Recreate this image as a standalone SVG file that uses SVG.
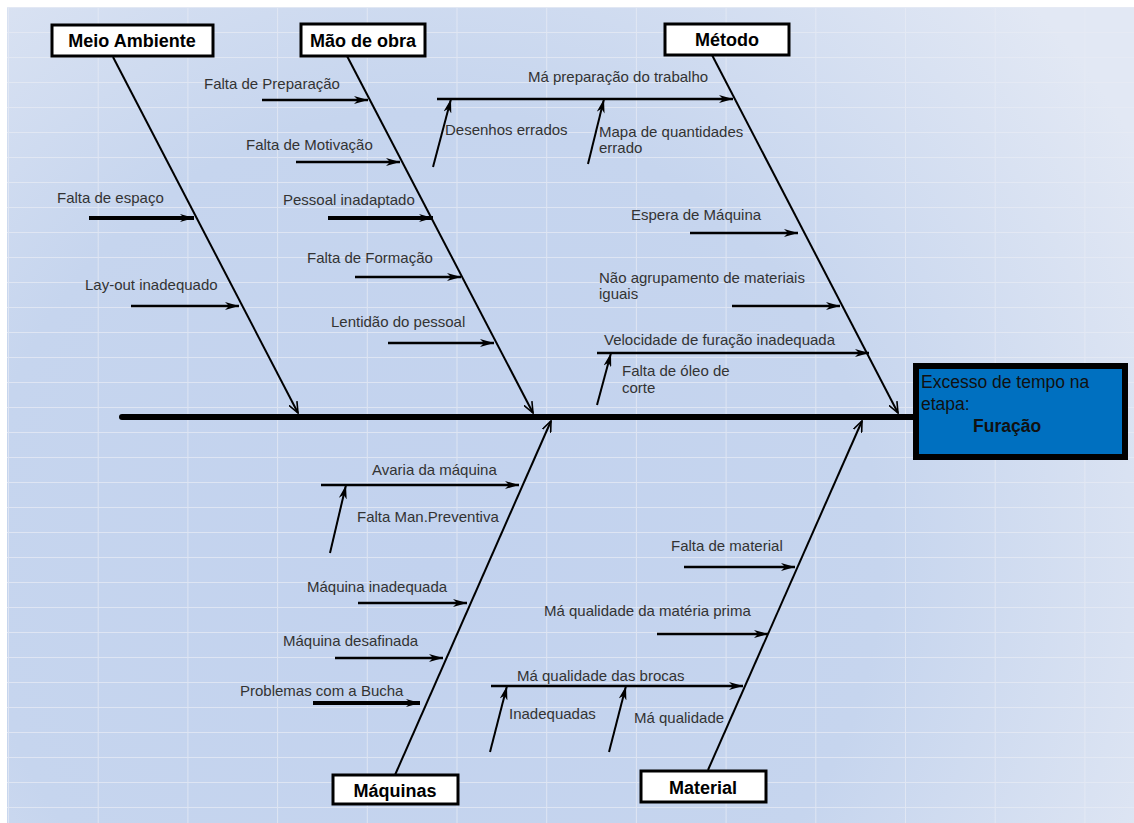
<svg xmlns="http://www.w3.org/2000/svg" width="1134" height="823" viewBox="0 0 1134 823">
  <defs>
    <radialGradient id="bgGrad" gradientUnits="userSpaceOnUse" cx="430" cy="560" r="820">
      <stop offset="0" stop-color="#c2d2ee"/>
      <stop offset="0.55" stop-color="#c6d5ee"/>
      <stop offset="1" stop-color="#e2e8f4"/>
    </radialGradient>
    <pattern id="grid" patternUnits="userSpaceOnUse" x="8" y="7" width="89.7" height="25">
      <path d="M0,0 H89.7 M0,0 V25" fill="none" stroke="#e6ebf4" stroke-width="2" stroke-opacity="0.75"/>
    </pattern>
    <marker id="head" markerUnits="userSpaceOnUse" viewBox="0 0 14 8" refX="14" refY="4" markerWidth="14" markerHeight="8" orient="auto">
      <path d="M0,0 L14,4 L0,8 L4,4 z" fill="#000"/>
    </marker>
    <marker id="vhead" markerUnits="userSpaceOnUse" viewBox="0 0 12 10" refX="11" refY="5" markerWidth="12" markerHeight="10" orient="auto">
      <path d="M0,0.5 L11,5 L0,9.5" fill="none" stroke="#000" stroke-width="1.6"/>
    </marker>
    <style>
      .cat rect { fill: #fff; stroke: #000; stroke-width: 3; }
      .cat text { font-family: "Liberation Sans", Arial, sans-serif; font-weight: bold; font-size: 18px; fill: #000; text-anchor: middle; }
      .lbl { font-family: "Liberation Sans", Arial, sans-serif; font-size: 15px; fill: #333; }
      .eff { font-family: "Liberation Sans", Arial, sans-serif; font-size: 17.5px; fill: #111; }
      .bone { stroke: #000; stroke-width: 2; fill: none; marker-end: url(#vhead); }
      .sub { stroke: #000; stroke-width: 2.5; fill: none; marker-end: url(#head); }
      .subw { stroke: #000; stroke-width: 4; fill: none; marker-end: url(#head); }
      .twig { stroke: #000; stroke-width: 2; fill: none; marker-end: url(#head); }
    </style>
  </defs>

  <!-- sheet background with cell grid -->
  <rect x="0" y="0" width="1134" height="823" fill="#fff"/>
  <rect x="7" y="7" width="1127" height="816" fill="url(#bgGrad)"/>
  <rect x="7" y="7" width="1127" height="816" fill="url(#grid)"/>

  <!-- connectors: spine, bones and cause arrows -->
  <g id="connectors">
    <line x1="122" y1="417" x2="916" y2="417" stroke="#000" stroke-width="6" stroke-linecap="round"/>

    <line class="bone" x1="113" y1="57" x2="298" y2="413"/>
    <line class="bone" x1="347" y1="56" x2="533" y2="413"/>
    <line class="bone" x1="712" y1="55" x2="898" y2="413"/>
    <line class="bone" x1="395" y1="775" x2="551" y2="421"/>
    <line class="bone" x1="708" y1="770" x2="862" y2="421"/>

    <!-- Meio Ambiente -->
    <line class="subw" x1="89" y1="218" x2="194" y2="218"/>
    <line class="sub" x1="131" y1="306" x2="239" y2="306"/>

    <!-- Mão de obra -->
    <line class="sub" x1="262" y1="100" x2="368" y2="100"/>
    <line class="sub" x1="296" y1="162" x2="400" y2="162"/>
    <line class="subw" x1="328" y1="218" x2="433" y2="218"/>
    <line class="sub" x1="355" y1="277" x2="461" y2="277"/>
    <line class="sub" x1="388" y1="343" x2="494" y2="343"/>

    <!-- Método -->
    <line class="sub" x1="437" y1="99" x2="733" y2="99"/>
    <line class="twig" x1="433" y1="167" x2="451" y2="99"/>
    <line class="twig" x1="588" y1="164" x2="604" y2="99"/>
    <line class="sub" x1="690" y1="233" x2="798" y2="233"/>
    <line class="sub" x1="732" y1="306" x2="840" y2="306"/>
    <line class="sub" x1="597" y1="353" x2="869" y2="353"/>
    <line class="twig" x1="597" y1="405" x2="611" y2="353"/>

    <!-- Máquinas -->
    <line class="sub" x1="321" y1="485" x2="519" y2="485"/>
    <line class="twig" x1="330" y1="553" x2="346" y2="485"/>
    <line class="sub" x1="358" y1="603" x2="467" y2="603"/>
    <line class="sub" x1="335" y1="658" x2="443" y2="658"/>
    <line class="subw" x1="313" y1="703" x2="420" y2="703"/>

    <!-- Material -->
    <line class="sub" x1="684" y1="567" x2="795" y2="567"/>
    <line class="sub" x1="657" y1="634" x2="768" y2="634"/>
    <line class="sub" x1="491" y1="686" x2="743" y2="686"/>
    <line class="twig" x1="490" y1="752" x2="507" y2="686"/>
    <line class="twig" x1="609" y1="752" x2="626" y2="686"/>
  </g>

  <!-- category headings -->
  <g id="meio-ambiente" class="cat">
    <rect x="52" y="25" width="161" height="31"/>
    <text x="132" y="47">Meio Ambiente</text>
  </g>
  <g id="mao-de-obra" class="cat">
    <rect x="301" y="24" width="124" height="32"/>
    <text x="363" y="47">Mão de obra</text>
  </g>
  <g id="metodo" class="cat">
    <rect x="665" y="24" width="124" height="31"/>
    <text x="727" y="46">Método</text>
  </g>
  <g id="maquinas" class="cat">
    <rect x="333" y="775" width="125" height="29"/>
    <text x="395" y="797">Máquinas</text>
  </g>
  <g id="material" class="cat">
    <rect x="641" y="771" width="125" height="31"/>
    <text x="703" y="794">Material</text>
  </g>

  <!-- effect -->
  <g id="efeito">
    <rect x="916" y="366" width="209" height="91" fill="#0070c0" stroke="#000" stroke-width="6"/>
    <text class="eff" x="921" y="388">Excesso de tempo na</text>
    <text class="eff" x="921" y="410">etapa:</text>
    <text class="eff" x="973" y="432" font-weight="bold">Furação</text>
  </g>

  <!-- causes -->
  <g id="c-falta-espaco"><text class="lbl" x="57" y="203">Falta de espaço</text></g>
  <g id="c-layout"><text class="lbl" x="85" y="290">Lay-out inadequado</text></g>

  <g id="c-falta-preparacao"><text class="lbl" x="204" y="89">Falta de Preparação</text></g>
  <g id="c-falta-motivacao"><text class="lbl" x="246" y="150">Falta de Motivação</text></g>
  <g id="c-pessoal"><text class="lbl" x="283" y="205">Pessoal inadaptado</text></g>
  <g id="c-falta-formacao"><text class="lbl" x="307" y="263">Falta de Formação</text></g>
  <g id="c-lentidao"><text class="lbl" x="331" y="327">Lentidão do pessoal</text></g>

  <g id="c-ma-preparacao"><text class="lbl" x="528" y="82">Má preparação do trabalho</text></g>
  <g id="c-desenhos"><text class="lbl" x="445" y="135">Desenhos errados</text></g>
  <g id="c-mapa">
    <text class="lbl" x="599" y="137">Mapa de quantidades</text>
    <text class="lbl" x="599" y="153">errado</text>
  </g>
  <g id="c-espera"><text class="lbl" x="631" y="220">Espera de Máquina</text></g>
  <g id="c-agrupamento">
    <text class="lbl" x="599" y="283">Não agrupamento de materiais</text>
    <text class="lbl" x="599" y="299">iguais</text>
  </g>
  <g id="c-velocidade"><text class="lbl" x="604" y="345">Velocidade de furação inadequada</text></g>
  <g id="c-oleo">
    <text class="lbl" x="622" y="376">Falta de óleo de</text>
    <text class="lbl" x="622" y="393">corte</text>
  </g>

  <g id="c-avaria"><text class="lbl" x="372" y="475">Avaria da máquina</text></g>
  <g id="c-preventiva"><text class="lbl" x="357" y="522">Falta Man.Preventiva</text></g>
  <g id="c-maq-inadequada"><text class="lbl" x="307" y="592">Máquina inadequada</text></g>
  <g id="c-maq-desafinada"><text class="lbl" x="283" y="646">Máquina desafinada</text></g>
  <g id="c-bucha"><text class="lbl" x="240" y="696">Problemas com a Bucha</text></g>

  <g id="c-falta-material"><text class="lbl" x="671" y="551">Falta de material</text></g>
  <g id="c-materia-prima"><text class="lbl" x="544" y="616">Má qualidade da matéria prima</text></g>
  <g id="c-brocas"><text class="lbl" x="517" y="681">Má qualidade das brocas</text></g>
  <g id="c-inadequadas"><text class="lbl" x="509" y="719">Inadequadas</text></g>
  <g id="c-ma-qualidade"><text class="lbl" x="634" y="723">Má qualidade</text></g>
</svg>
